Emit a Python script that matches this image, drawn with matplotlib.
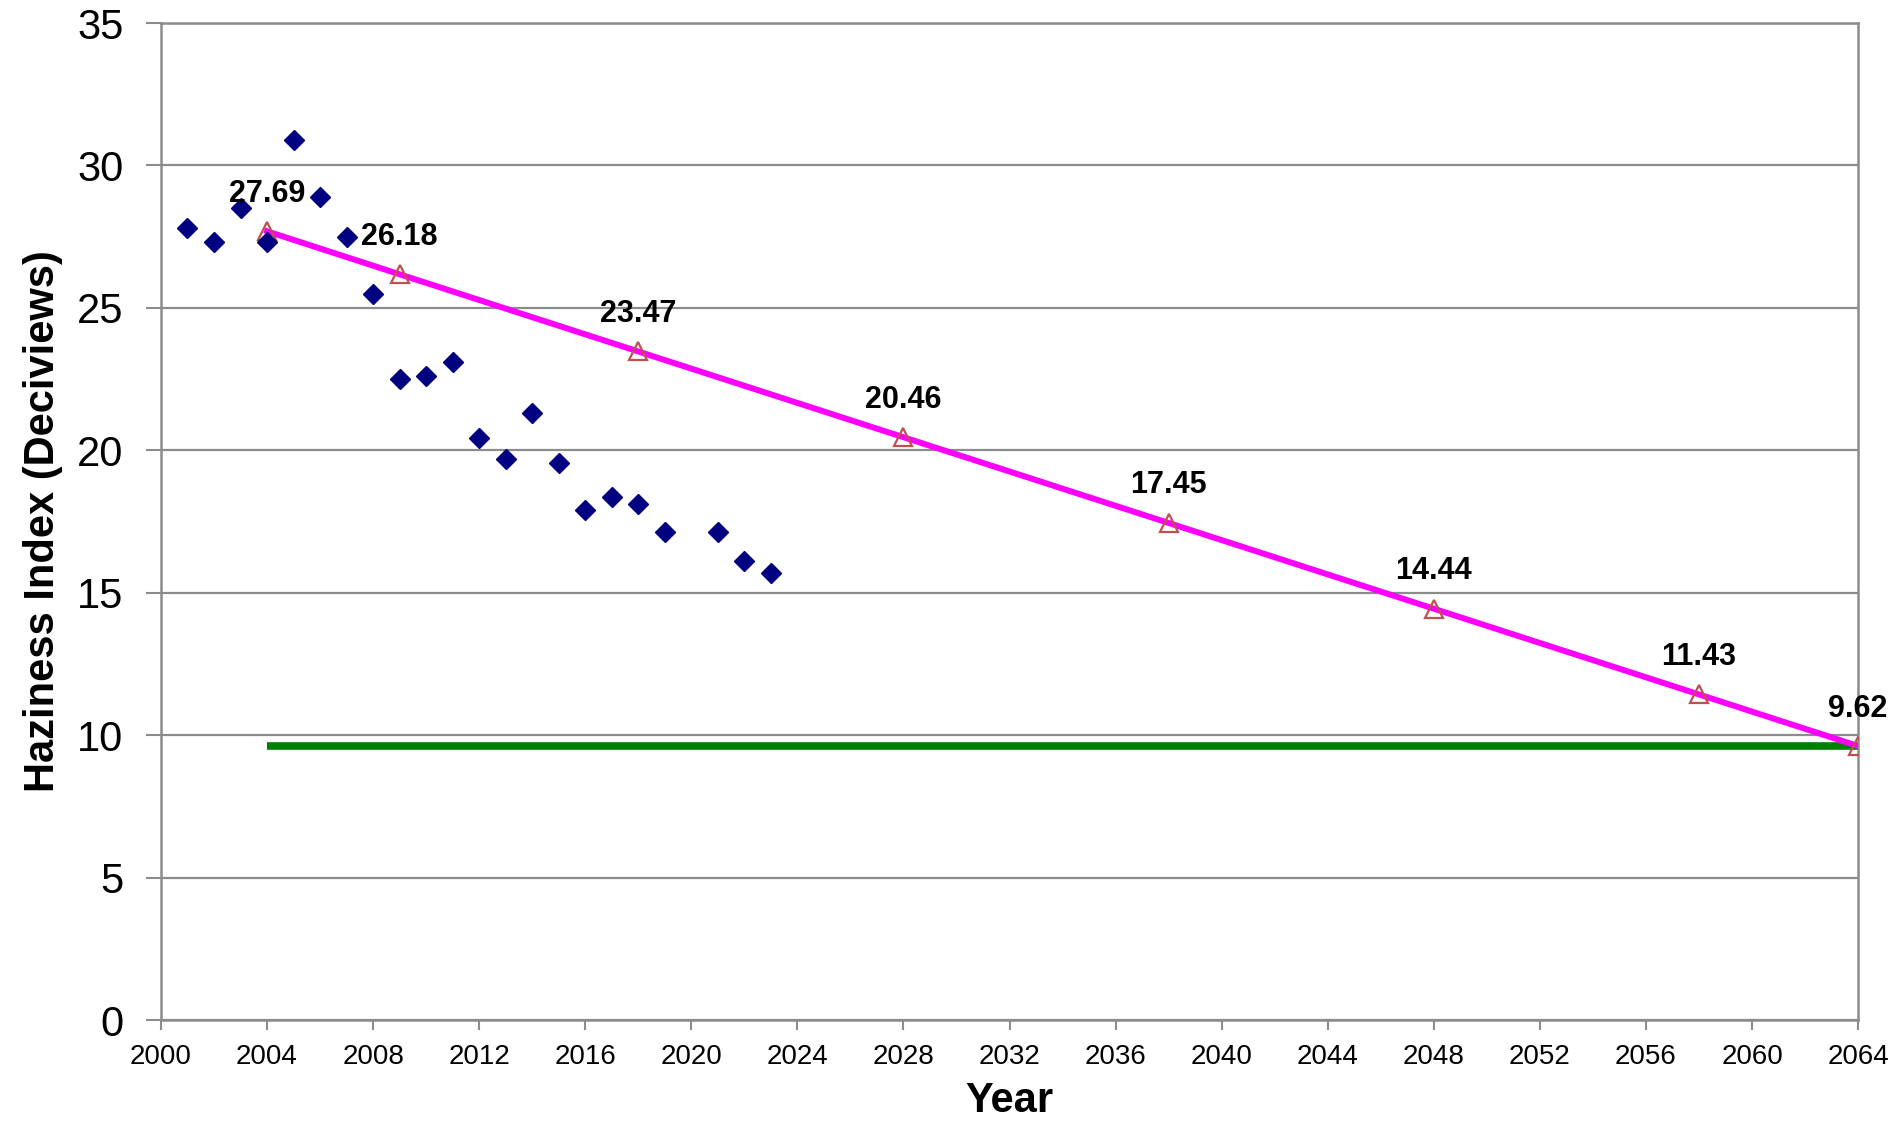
import matplotlib
matplotlib.use("Agg")
import matplotlib.pyplot as plt

plt.rcParams["font.family"] = ["Liberation Sans", "DejaVu Sans"]

# Observed haziness (blue diamonds)
obs_years = [2001, 2002, 2003, 2004, 2005, 2006, 2007, 2008, 2009, 2010, 2011,
             2012, 2013, 2014, 2015, 2016, 2017, 2018, 2019, 2021, 2022, 2023]
obs_vals = [27.8, 27.3, 28.5, 27.3, 30.9, 28.9, 27.5, 25.5, 22.5, 22.6, 23.1,
            20.45, 19.7, 21.3, 19.55, 17.9, 18.35, 18.1, 17.15, 17.15, 16.1, 15.7]

# Uniform progress glide path (triangles + magenta line)
glide_years = [2004, 2009, 2018, 2028, 2038, 2048, 2058, 2064]
glide_vals = [27.69, 26.18, 23.47, 20.46, 17.45, 14.44, 11.43, 9.62]

# Natural conditions target (green line)
natural_years = [2004, 2064]
natural_vals = [9.62, 9.62]

fig = plt.figure(figsize=(18.98, 11.24), dpi=100)
ax = fig.add_axes([0.0848, 0.0925, 0.8942, 0.887])

grid_col = "#8c8c8c"

ax.plot(natural_years, natural_vals, color="#008000", lw=5.5, zorder=2,
        solid_capstyle="butt")
ax.plot(glide_years, glide_vals, color="#ff00ff", lw=4.3, zorder=3)
ax.plot(glide_years, glide_vals, ls="none", marker="^", ms=13,
        mfc="none", mec="#c0504d", mew=1.6, zorder=4)
ax.plot(obs_years, obs_vals, ls="none", marker="D", ms=10,
        color="#000080", zorder=5)

for x, y in zip(glide_years, glide_vals):
    ax.annotate(f"{y:.2f}", (x, y), xytext=(0, 27), textcoords="offset points",
                ha="center", va="center", fontsize=22, fontweight="bold",
                zorder=6, annotation_clip=False)

ax.set_xlim(2000, 2064)
ax.set_ylim(0, 35)
ax.set_xticks(range(2000, 2065, 4))
ax.set_yticks(range(0, 36, 5))
ax.yaxis.grid(True, color=grid_col, lw=1.6)
ax.set_axisbelow(True)

for s in ax.spines.values():
    s.set_color(grid_col)
    s.set_linewidth(1.8)

ax.tick_params(axis="x", direction="out", length=7, width=1.5, color=grid_col,
               labelsize=20, pad=10)
ax.tick_params(axis="y", direction="out", length=11, width=1.5, color=grid_col,
               labelsize=30, pad=16)

ax.set_xlabel("Year", fontsize=30, fontweight="bold", labelpad=8)
ax.set_ylabel("Haziness Index (Deciviews)", fontsize=30, fontweight="bold",
              labelpad=10)

fig.savefig("out.png", dpi=100)
